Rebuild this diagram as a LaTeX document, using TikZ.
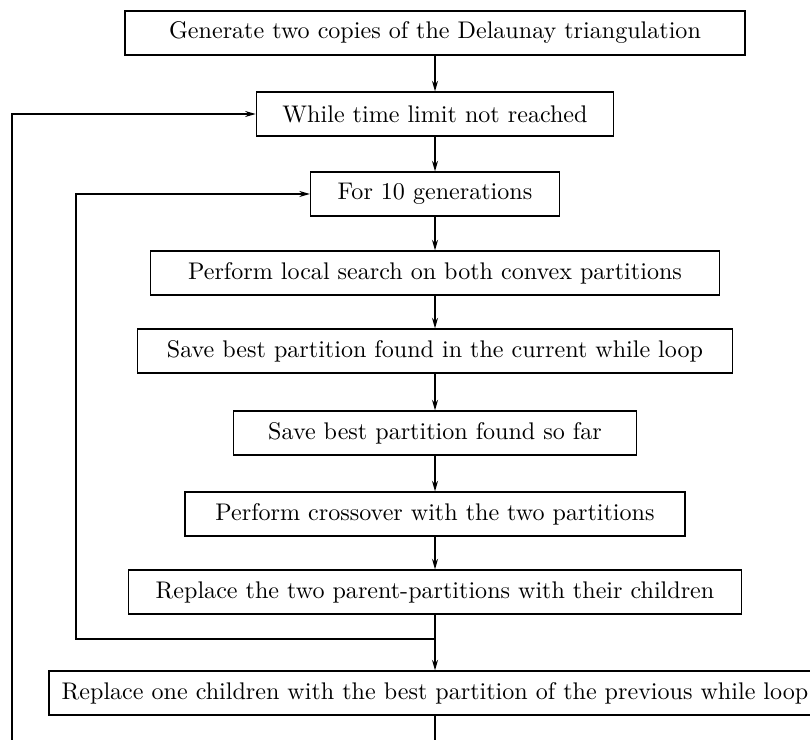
\documentclass[tikz,border=0pt]{standalone}
\usepackage{tikz}
\usetikzlibrary{arrows.meta, positioning}

\begin{document}
\begin{tikzpicture}[x=0.434pt, y=-0.434pt, semithick,
    stepbox/.style={draw, rectangle, minimum height=19pt, inner sep=0pt, font=\fontsize{10.45}{12}\selectfont},
    >={Stealth[length=4.6pt, width=2.6pt]}]
\useasboundingbox (0,0) rectangle (810,740);
% === boxes ===
\node[stepbox, minimum width=269pt] (gen)   at (435,33)  {Generate two copies of the Delaunay triangulation};
\node[stepbox, minimum width=155pt] (while) at (435,114) {While time limit not reached};
\node[stepbox, minimum width=108pt] (gens)  at (435,194) {For 10 generations};
\node[stepbox, minimum width=247pt] (local) at (435,273) {Perform local search on both convex partitions};
\node[stepbox, minimum width=258pt] (savew) at (435,351) {Save best partition found in the current while loop};
\node[stepbox, minimum width=175pt] (saveb) at (435,433) {Save best partition found so far};
\node[stepbox, minimum width=217pt] (cross) at (435,514) {Perform crossover with the two partitions};
\node[stepbox, minimum width=266pt] (repl)  at (435,592) {Replace the two parent-partitions with their children};
\node[stepbox, minimum width=335pt] (child) at (435,693) {Replace one children with the best partition of the previous while loop};
% === loop corners ===
\coordinate (inner) at (76,639);
\coordinate (outer) at (12,740);
\coordinate (bottom) at (435,740);
% === arrows ===
\draw[->] (gen) -- (while);
\draw[->] (while) -- (gens);
\draw[->] (gens) -- (local);
\draw[->] (local) -- (savew);
\draw[->] (savew) -- (saveb);
\draw[->] (saveb) -- (cross);
\draw[->] (cross) -- (repl);
\draw[->] (repl) -- (child);
\draw[->] (repl.south |- inner) -- (inner) |- (gens.west);
\draw[->] (outer) |- (while.west);
\draw (child.south) -- (bottom);
\end{tikzpicture}
\end{document}
